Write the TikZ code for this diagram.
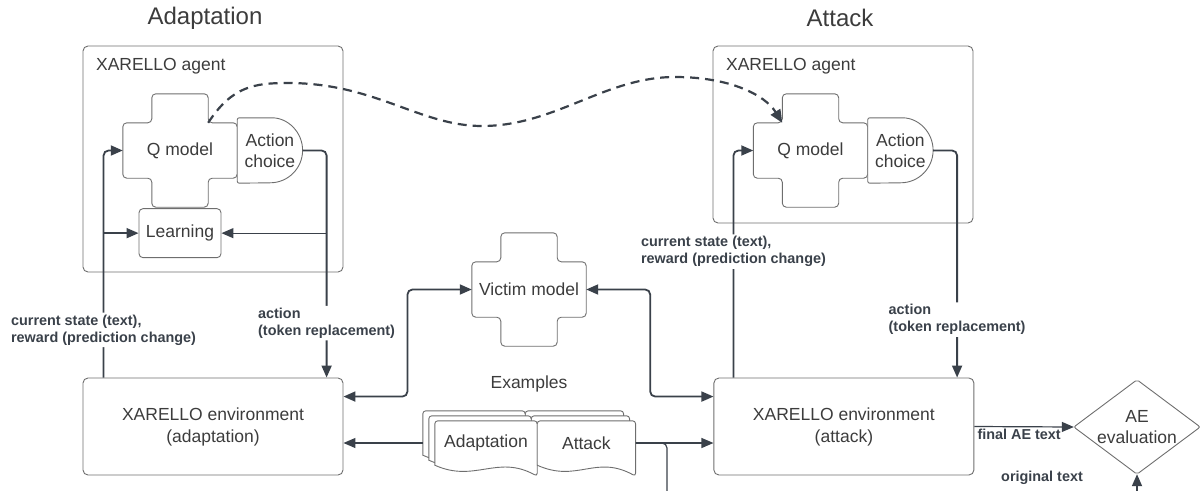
\documentclass[tikz,border=0pt]{standalone}
\usepackage{fontspec}
\setmainfont{Liberation Sans}
\usepackage{xcolor}
\usepackage{tikz}
\usetikzlibrary{arrows.meta, positioning, calc, backgrounds}
\definecolor{XL_LINE}{HTML}{3A414A}
\definecolor{XL_EDGE}{HTML}{6E6E6E}
\definecolor{XL_TEXT}{HTML}{3C3C3C}
\newcommand{\mainsize}{\fontsize{17.5}{21}\selectfont}
\tikzset{
  frame/.style={
    rectangle, rounded corners=5pt,
    draw=XL_EDGE, line width=0.9pt,
    text=XL_TEXT, font=\mainsize},
  agentbox/.style={frame, minimum width=260pt},
  envbox/.style={
    frame, minimum width=260pt, minimum height=97pt,
    text centered, align=center, font=\fontsize{17.5}{22}\selectfont},
  learnbox/.style={
    frame, rounded corners=4pt,
    minimum width=82pt, minimum height=49pt, inner sep=0pt},
  crossnode/.style={
    rectangle, minimum width=114pt, minimum height=113pt,
    inner sep=0pt, text=XL_TEXT, font=\mainsize},
  delaynode/.style={
    rectangle, minimum width=65pt, minimum height=65pt,
    inner sep=0pt, align=center, text=XL_TEXT, font=\mainsize},
  docnode/.style={
    rectangle, minimum height=44pt, inner sep=0pt,
    text=XL_TEXT, font=\mainsize},
  aebox/.style={
    rectangle, minimum width=126pt, minimum height=94pt,
    inner sep=0pt, align=center, text=XL_TEXT, font=\mainsize},
  shapeedge/.style={draw=XL_EDGE, line width=0.9pt, fill=white},
  ttl/.style={text=XL_TEXT, font=\fontsize{24}{28}\selectfont},
  plain/.style={text=XL_TEXT, font=\mainsize},
  lbl/.style={
    fill=white, inner sep=2pt, align=left, text=XL_LINE,
    font=\fontsize{14.4}{17}\selectfont\bfseries},
  conn/.style={
    -{Triangle[length=12pt,width=10pt]}, draw=XL_LINE,
    line width=1.8pt, rounded corners=5pt},
  biconn/.style={
    conn, {Triangle[length=12pt,width=10pt]}-{Triangle[length=12pt,width=10pt]}},
  thinconn/.style={conn, line width=1.2pt},
  dconn/.style={
    -{Triangle[length=13pt,width=11pt]}, draw=XL_LINE,
    line width=2.2pt, dash pattern=on 9pt off 6pt},
}
% cross shaped model outline around a node
\newcommand{\crossoutline}[1]{%
  \draw[shapeedge, rounded corners=4pt]
    ($(#1.north west)+(29,0)$) -- ($(#1.north east)+(-29,0)$)
    -- ($(#1.north east)+(-29,29)$) -- ($(#1.north east)+(0,29)$)
    -- ($(#1.south east)+(0,-29)$) -- ($(#1.south east)+(-29,-29)$)
    -- ($(#1.south east)+(-29,0)$) -- ($(#1.south west)+(29,0)$)
    -- ($(#1.south west)+(29,-29)$) -- ($(#1.south west)+(0,-29)$)
    -- ($(#1.north west)+(0,29)$) -- ($(#1.north west)+(29,29)$)
    -- cycle;}
% D shaped outline (action choice)
\newcommand{\delayoutline}[1]{%
  \draw[shapeedge, rounded corners=2pt]
    (#1.north west) -- ($(#1.north east)+(-32.5,0)$)
    [sharp corners] arc[start angle=90, end angle=-90, radius=32.5pt]
    [rounded corners=2pt] -- (#1.south west) -- cycle;}
% one page of a document stack, shifted by (#2,#3)
\newcommand{\docpage}[3]{%
  \draw[shapeedge, rounded corners=3pt]
    ($(#1.south west)+(#2,#3)$) -- ($(#1.north west)+(#2,#3)$)
    -- ($(#1.north east)+(#2,#3)$) -- ($(#1.south east)+(#2,#3+11)$)
    [sharp corners] .. controls +(-40,-22) and +(40,18) .. ($(#1.south west)+(#2,#3)$)
    -- cycle;}

\begin{document}
\begin{tikzpicture}[x=1pt, y=-1pt]
  \useasboundingbox (0,0) rectangle (1201,490);

  % adaptation side
  \node[ttl] (ttlA) at (205,18) {Adaptation};
  \node[agentbox, minimum height=226pt] (agentA) at (213,159) {};
  \node[plain, anchor=base west] (agentAname)
    at ($(agentA.north west)+(10,24.5)$) {XARELLO agent};
  \node[crossnode] (qA) at (180,150.5) {Q model};
  \node[delaynode, right=0pt of qA] (actA) {Action\\choice};
  \node[learnbox, below=1pt of qA] (learnA) {Learning};
  \node[envbox] (envA) at (213,426.5) {XARELLO environment\\(adaptation)};

  % attack side
  \node[ttl] (ttlB) at (840,18) {Attack};
  \node[agentbox, minimum height=177pt] (agentB) at (843,134.5) {};
  \node[plain, anchor=base west] (agentBname)
    at ($(agentB.north west)+(10,24.5)$) {XARELLO agent};
  \node[crossnode] (qB) at (810.5,150.5) {Q model};
  \node[delaynode, right=0pt of qB] (actB) {Action\\choice};
  \node[envbox, right=370pt of envA] (envB) {XARELLO environment\\(attack)};

  % shared parts
  \node[crossnode] (victim) at (529,289.5) {Victim model};
  \node[plain] (exlbl) at (529,384) {Examples};
  \node[docnode, minimum width=102pt] (adapdoc) at (486,443) {Adaptation};
  \node[docnode, minimum width=98pt, right=0pt of adapdoc] (attdoc) {Attack};
  \node[aebox] (ae) at (1137,427) {AE\\evaluation};

  \begin{scope}[on background layer]
    \crossoutline{qA}
    \crossoutline{qB}
    \crossoutline{victim}
    \delayoutline{actA}
    \delayoutline{actB}
    \draw[shapeedge, rounded corners=2pt]
      (ae.west) -- (ae.north) -- (ae.east) -- (ae.south) -- cycle;
    \docpage{attdoc}{-12}{-10}
    \docpage{attdoc}{-6}{-5}
    \docpage{adapdoc}{-12}{-10}
    \docpage{adapdoc}{-6}{-5}
    \docpage{adapdoc}{0}{0}
    \docpage{attdoc}{0}{0}
  \end{scope}

  % agent <-> environment loops
  \draw[conn] (actA.east) -- ++(24,0) coordinate (tA)
    -- node[lbl, pos=0.76] {action\\(token replacement)} (tA |- envA.north);
  \draw[thinconn] (tA |- learnA.east) -- (learnA.east);
  \draw[conn] (envA.north west) ++(21,0) coordinate (fA)
    -- node[lbl, pos=0.21] {current state (text),\\reward (prediction change)}
    (fA |- qA.west) -- (qA.west);
  \draw[conn] (fA |- learnA.west) -- (learnA.west);

  \draw[conn] (actB.east) -- ++(24,0) coordinate (tB)
    -- node[lbl, pos=0.745] {action\\(token replacement)} (tB |- envB.north);
  \draw[conn] (envB.north west) ++(20,0) coordinate (fB)
    -- node[lbl, pos=0.555] {current state (text),\\reward (prediction change)}
    (fB |- qB.west) -- (qB.west);

  % victim model queries
  \draw[biconn] ($(envA.north east)+(0,19)$) -- ++(64,0) |- (victim.west);
  \draw[biconn] (victim.east) -- ++(64,0) |- ($(envB.north west)+(0,19)$);

  % examples
  \draw[thinconn] ([xshift=-12pt]adapdoc.west) -- (adapdoc.west -| envA.east);
  \draw[thinconn] (attdoc.east) -- (attdoc.east -| envB.west);
  \coordinate (origdown) at (667,496);
  \coordinate (origup) at (1137,496);
  \draw[thinconn, -] (attdoc.east) -| (origdown);

  % evaluation
  \draw[thinconn] (envB.east)
    -- node[lbl, fill=none, below, pos=0.45] {final AE text} (ae.west);
  \node[lbl, fill=none] (origlbl) at (1042,478) {original text};
  \draw[conn] (origup) -- (ae.south);

  % Q model transfer
  \draw[dconn] ($(qA.north east)+(-29,29)$)
    .. controls (232,86) and (255,83) .. (288,83)
    .. controls (375,83) and (420,126) .. (482,126)
    .. controls (555,126) and (605,77) .. (675,77)
    .. controls (730,77) and (765,95) .. ($(qB.north west)+(29,29)$);

\end{tikzpicture}
\end{document}
